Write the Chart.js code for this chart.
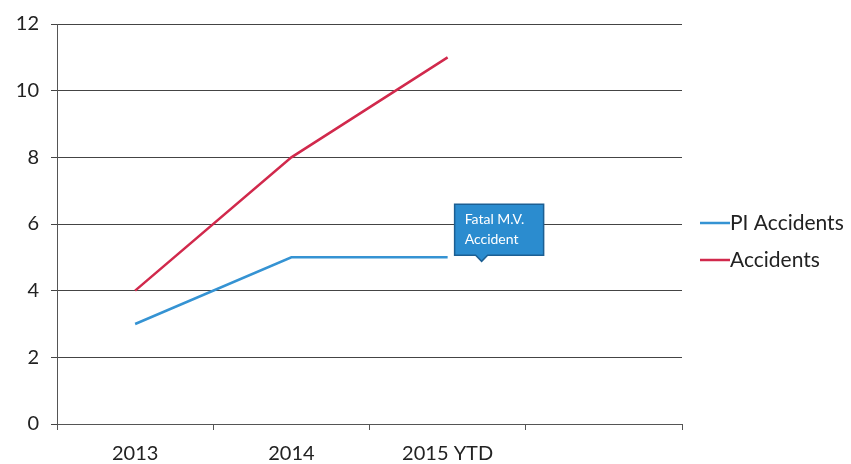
<!DOCTYPE html>
<html>
<head>
<meta charset="utf-8">
<script src="https://cdn.jsdelivr.net/npm/chart.js@4"></script>
<style>
  html, body { margin: 0; padding: 0; background: #fff; }
  #wrap { width: 851px; height: 464px; }
</style>
</head>
<body>
<div id="wrap"><canvas id="chart"></canvas></div>
<script>
const categories = ['2013', '2014', '2015 YTD', ''];
const piAccidents = [3, 5, 5, null];
const accidents = [4, 8, 11, null];
const yTicks = [0, 2, 4, 6, 8, 10, 12];
const calloutText = ['Fatal M.V.', 'Accident'];

const FONT = 'Lato, "Open Sans", sans-serif';

// legend drawn at the right, like the original
const sideLegend = {
    id: 'sideLegend',
    afterDraw(chart) {
        const ctx = chart.ctx;
        const x0 = 700;
        const rows = [223, 260];
        ctx.save();
        chart.data.datasets.forEach((ds, i) => {
            const y = rows[i];
            ctx.strokeStyle = ds.borderColor;
            ctx.lineWidth = 2.5;
            ctx.beginPath();
            ctx.moveTo(x0, y);
            ctx.lineTo(x0 + 30, y);
            ctx.stroke();
            ctx.fillStyle = '#222';
            ctx.font = '21px ' + FONT;
            ctx.textBaseline = 'middle';
            ctx.fillText(ds.label, x0 + 30, y);
        });
        ctx.restore();
    }
};

// callout box above the last PI point
const callout = {
    id: 'callout',
    afterDraw(chart) {
        const meta = chart.getDatasetMeta(0);
        const pt = meta.data[2];
        const ctx = chart.ctx;
        const left = pt.x + 7, top = pt.y - 53, w = 89, h = 51;
        ctx.save();
        ctx.fillStyle = '#2b8ccf';
        ctx.strokeStyle = '#1c5f93';
        ctx.lineWidth = 1.5;
        ctx.beginPath();
        ctx.moveTo(left, top);
        ctx.lineTo(left + w, top);
        ctx.lineTo(left + w, top + h);
        ctx.lineTo(left + 33, top + h);
        ctx.lineTo(left + 27, top + h + 6);
        ctx.lineTo(left + 21, top + h);
        ctx.lineTo(left, top + h);
        ctx.closePath();
        ctx.fill();
        ctx.stroke();
        ctx.fillStyle = '#fff';
        ctx.font = '14px ' + FONT;
        ctx.textBaseline = 'middle';
        ctx.fillText(calloutText[0], left + 10, top + 15);
        ctx.fillText(calloutText[1], left + 10, top + 35);
        ctx.restore();
    }
};

new Chart(document.getElementById('chart'), {
    type: 'line',
    data: {
        labels: categories,
        datasets: [
            { label: 'PI Accidents', data: piAccidents, borderColor: '#3593d3', borderWidth: 2.5, pointRadius: 0, tension: 0 },
            { label: 'Accidents', data: accidents, borderColor: '#d1294c', borderWidth: 2.5, pointRadius: 0, tension: 0 }
        ]
    },
    options: {
        responsive: true,
        maintainAspectRatio: false,
        animation: false,
        layout: { padding: { left: 4, right: 169, top: 14, bottom: 0 } },
        plugins: {
            legend: { display: false },
            tooltip: { enabled: false }
        },
        scales: {
            x: {
                offset: true,
                afterFit(scale) { scale.height = 40; },
                grid: { display: true, drawOnChartArea: false, offset: true, color: '#555', tickLength: 6 },
                border: { color: '#555', width: 1 },
                ticks: { color: '#222', font: { family: FONT, size: 20 }, padding: 12, maxRotation: 0 }
            },
            y: {
                min: 0,
                max: 12,
                afterBuildTicks(scale) { scale.ticks = yTicks.map(v => ({ value: v })); },
                afterFit(scale) { scale.width = 53; },
                grid: { color: '#444', lineWidth: 1, tickLength: 6 },
                border: { color: '#555', width: 1 },
                ticks: { color: '#222', font: { family: FONT, size: 20 }, padding: 12 }
            }
        }
    },
    plugins: [sideLegend, callout]
});
</script>
</body>
</html>
